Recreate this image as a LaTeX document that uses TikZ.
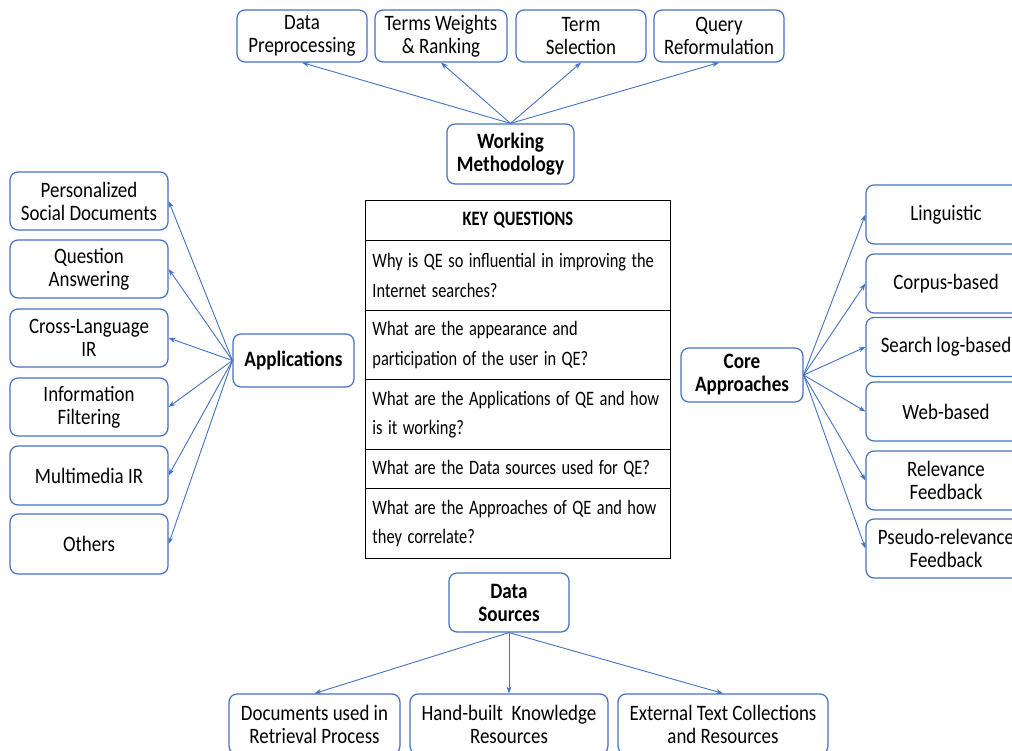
\documentclass[tikz,border=0pt]{standalone}
\usepackage{fontspec}
\usepackage{graphicx}
\setmainfont{Carlito}[FakeStretch=0.86, BoldFeatures={FakeStretch=0.87}]
\newfontfamily\tabfont{Carlito}
\usetikzlibrary{arrows.meta}
\definecolor{bblue}{HTML}{4472C4}
\newcommand{\myboxfont}{\fontsize{22}{23}\selectfont}
\newcommand{\myhubfont}{\fontsize{22}{23}\selectfont\bfseries}
\newcommand{\mytabfont}{\tabfont\fontsize{20.5}{29.5}\selectfont}
\newcommand{\ql}[1]{\scalebox{0.80}[1]{#1}}
\begin{document}
\begin{tikzpicture}[x=1pt,y=-1pt,
 box/.style={draw=bblue, line width=1.2pt, rounded corners=8pt, fill=white, align=center, inner sep=0pt, font=\myboxfont},
 hub/.style={box, font=\myhubfont},
 arr/.style={draw=bblue, line width=0.9pt, -{Stealth[length=7pt,width=5pt]}},
 cell/.style={draw=black, line width=0.9pt, anchor=north west, minimum width=305pt, text width=291pt, inner xsep=7pt, inner ysep=0pt, align=left, font=\mytabfont}
]
\useasboundingbox (0,0) rectangle (1012,751);
\clip (0,0) rectangle (1012,751);
\fill[white] (0,0) rectangle (1012,751);

% top
\node[box, minimum width=130pt, minimum height=52pt] (dp) at (302,36) {Data\\Preprocessing};
\node[box, minimum width=132pt, minimum height=52pt] (tw) at (441,36) {Terms Weights\\\& Ranking};
\node[box, minimum width=130pt, minimum height=52pt] (ts) at (581,36) {Term\\Selection};
\node[box, minimum width=130pt, minimum height=52pt] (qr) at (719,36) {Query\\Reformulation};
\node[hub, minimum width=127pt, minimum height=60pt] (wm) at (510.5,154) {Working\\Methodology};

% left
\node[box, minimum width=158pt, minimum height=58pt] (psd) at (89,201) {Personalized\\Social Documents};
\node[box, minimum width=158pt, minimum height=58pt] (qa) at (89,269) {Question\\Answering};
\node[box, minimum width=158pt, minimum height=58pt] (cl) at (89,338) {Cross-Language\\IR};
\node[box, minimum width=158pt, minimum height=58pt] (inf) at (89,407) {Information\\Filtering};
\node[box, minimum width=158pt, minimum height=59pt] (mm) at (89,475.5) {Multimedia IR};
\node[box, minimum width=158pt, minimum height=60pt] (oth) at (89,544) {Others};
\node[hub, minimum width=121pt, minimum height=53pt] (app) at (293.5,360.5) {Applications};

% right
\node[box, minimum width=160pt, minimum height=59pt] (ling) at (946,214.5) {Linguistic};
\node[box, minimum width=160pt, minimum height=59pt] (corp) at (946,283.5) {Corpus-based};
\node[box, minimum width=160pt, minimum height=59pt] (slog) at (946,347) {Search log-based};
\node[box, minimum width=160pt, minimum height=59pt] (web) at (946,411.5) {Web-based};
\node[box, minimum width=160pt, minimum height=59pt] (rf) at (946,480.5) {Relevance\\Feedback};
\node[box, minimum width=160pt, minimum height=59pt] (prf) at (946,548.5) {Pseudo-relevance\\Feedback};
\node[hub, minimum width=122pt, minimum height=54pt] (core) at (742,375) {Core\\Approaches};

% bottom
\node[hub, minimum width=120pt, minimum height=59pt] (ds) at (509,602.5) {Data\\Sources};
\node[box, minimum width=171pt, minimum height=60pt] (doc) at (314.5,724) {Documents used in\\Retrieval Process};
\node[box, minimum width=198pt, minimum height=60pt] (hb) at (509,724) {Hand-built\ \ Knowledge\\Resources};
\node[box, minimum width=210pt, minimum height=60pt] (ext) at (723,724) {External Text Collections\\and Resources};

% table
\node[cell, minimum height=40pt, align=center] (kq) at (365,200) {\ql{\bfseries KEY QUESTIONS}};
\node[cell, minimum height=70pt] (q1) at (365,240) {\ql{Why is QE so influential in improving the}\\\ql{Internet searches?}};
\node[cell, minimum height=69pt] (q2) at (365,310) {\ql{What are the appearance and}\\\ql{participation of the user in QE?}};
\node[cell, minimum height=70pt] (q3) at (365,379) {\ql{What are the Applications of QE and how}\\\ql{is it working?}};
\node[cell, minimum height=39pt] (q4) at (365,449) {\ql{What are the Data sources used for QE?}};
\node[cell, minimum height=70pt] (q5) at (365,488) {\ql{What are the Approaches of QE and how}\\\ql{they correlate?}};

% connectors
\foreach \t in {dp,tw,ts,qr} \draw[arr] (wm.north) -- (\t.south);
\foreach \t in {psd,qa,cl,inf,mm,oth} \draw[arr] (app.west) -- (\t.east);
\foreach \t in {ling,corp,slog,web,rf,prf} \draw[arr] (core.east) -- (\t.west);
\foreach \t in {doc,hb,ext} \draw[arr] (ds.south) -- (\t.north);
\end{tikzpicture}
\end{document}
